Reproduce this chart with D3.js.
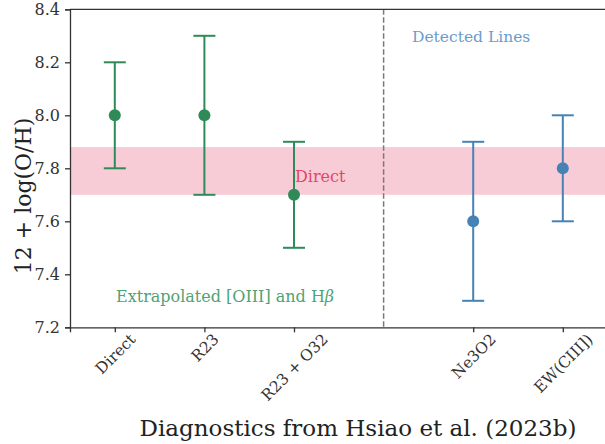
<!DOCTYPE html>
<html><head><meta charset="utf-8">
<script src="https://cdn.jsdelivr.net/npm/d3@7"></script>
<style>body{margin:0;background:#fff}svg{display:block}</style>
</head><body>
<script>
const categories = ["Direct","R23","R23 + O32","Ne3O2","EW(CIII])"];
const positions = [0,1,2,4,5];
const values = [8.0, 8.0, 7.7, 7.6, 7.8];
const errLow = [0.2, 0.3, 0.2, 0.3, 0.2];
const errHigh = [0.2, 0.3, 0.2, 0.3, 0.2];
const groups = ["extrap","extrap","extrap","detected","detected"];
const yTicks = [7.2,7.4,7.6,7.8,8.0,8.2,8.4];
const band = [7.70, 7.88];
const divider = 3;

const FONT = "'DejaVu Serif', 'Liberation Serif', serif";
const W=605,H=444;
const svg=d3.select("body").append("svg").attr("width",W).attr("height",H);
const x=d3.scaleLinear().domain([-0.5,5.5]).range([70,607.6]);
const y=d3.scaleLinear().domain([7.2,8.4]).range([327.3,9.3]);
const col={extrap:"#2e8b57",detected:"#4682b4"};

svg.append("rect").attr("x",x(-0.5)).attr("width",x(5.5)-x(-0.5))
  .attr("y",y(band[1])).attr("height",y(band[0])-y(band[1]))
  .attr("fill","#f7ccd6");
svg.append("line").attr("x1",x(divider)).attr("x2",x(divider)).attr("y1",y(8.4)).attr("y2",y(7.2))
  .attr("stroke","#7a7a7a").attr("stroke-width",1.5).attr("stroke-dasharray","5.5,2.5");

const g=svg.append("g");
categories.forEach((c,i)=>{
  const cx=x(positions[i]), cl=col[groups[i]];
  g.append("line").attr("x1",cx).attr("x2",cx).attr("y1",y(values[i]-errLow[i])).attr("y2",y(values[i]+errHigh[i])).attr("stroke",cl).attr("stroke-width",2);
  [values[i]-errLow[i],values[i]+errHigh[i]].forEach(v=>{
    g.append("line").attr("x1",cx-11).attr("x2",cx+11).attr("y1",y(v)).attr("y2",y(v)).attr("stroke",cl).attr("stroke-width",2);
  });
  g.append("circle").attr("cx",cx).attr("cy",y(values[i])).attr("r",6).attr("fill",cl);
});

function T(sel){return sel.style("font-family",FONT);}
T(svg.append("text").attr("x",412).attr("y",42).style("font-size","15.5px").style("fill","#6a9ccb")).text("Detected Lines");
T(svg.append("text").attr("x",295).attr("y",182).style("font-size","16px").style("fill","#e4466a")).text("Direct");
const ex=T(svg.append("text").attr("x",116).attr("y",302).style("font-size","16px").style("fill","#4fa274"));
ex.append("tspan").text("Extrapolated [OIII] and H");
ex.append("tspan").style("font-style","italic").text("β");

const ya=svg.append("g").attr("transform",`translate(${x(-0.5)},0)`)
  .call(d3.axisLeft(y).tickValues(yTicks).tickFormat(d3.format(".1f")).tickSize(5).tickPadding(5));
ya.selectAll("text").style("font-family",FONT).style("font-size","16px").style("fill","#333");
const xa=svg.append("g").attr("transform",`translate(0,${y(7.2)})`)
  .call(d3.axisBottom(x).tickValues(positions).tickFormat((d,i)=>categories[i]).tickSize(5));
xa.selectAll("text").style("font-family",FONT).style("font-size","15.5px").style("fill","#333")
  .attr("text-anchor","middle").attr("dy","0.35em").attr("y",0)
  .each(function(){
    const L=this.getComputedTextLength(), h=12;
    const half=(L+h)*Math.SQRT1_2/2;
    d3.select(this).attr("transform",`translate(0,${5+half}) rotate(-45)`);
  });
svg.selectAll(".domain,.tick line").attr("stroke","#333").attr("stroke-width",1.3);
svg.append("line").attr("x1",x(-0.5)).attr("x2",W).attr("y1",y(8.4)).attr("y2",y(8.4)).attr("stroke","#333").attr("stroke-width",1.3);

T(svg.append("text").attr("x",358).attr("y",436).attr("text-anchor","middle").style("font-size","23px").style("fill","#222")).text("Diagnostics from Hsiao et al. (2023b)");
T(svg.append("text").attr("transform","translate(31,196) rotate(-90)").attr("text-anchor","middle").style("font-size","22px").style("fill","#222")).text("12 + log(O/H)");
</script>
</body></html>
